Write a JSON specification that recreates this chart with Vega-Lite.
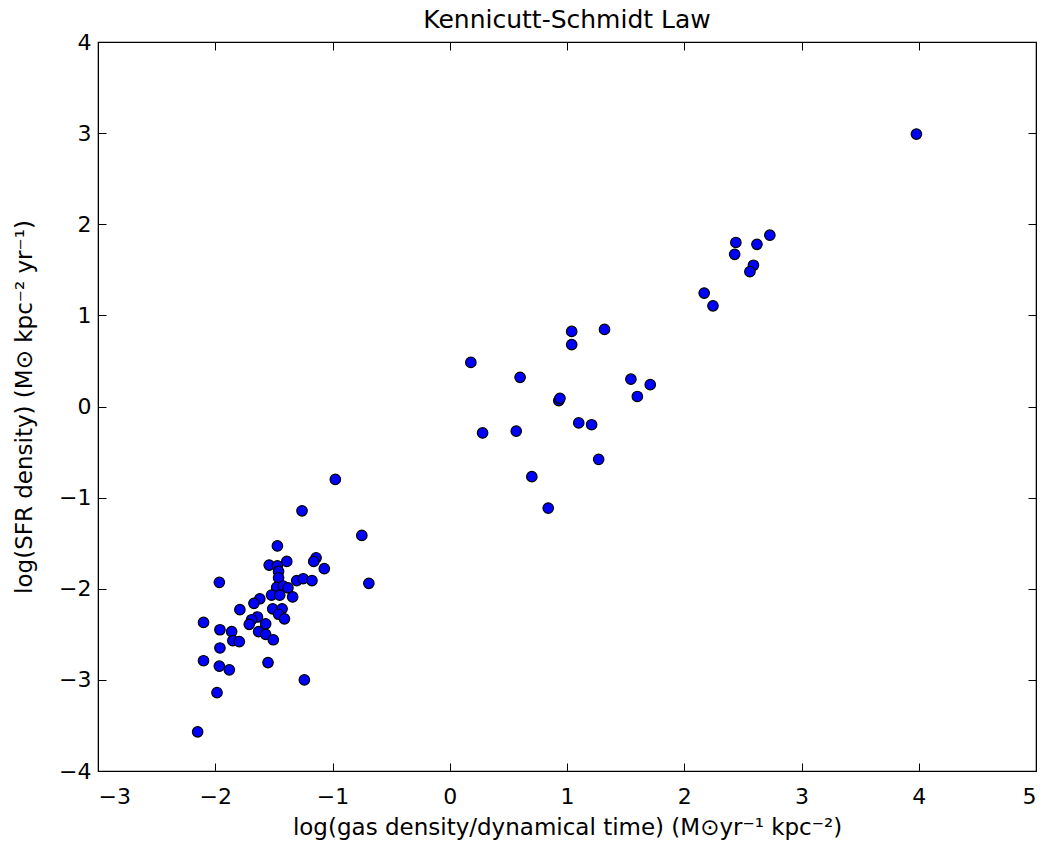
{
  "$schema": "https://vega.github.io/schema/vega-lite/v6.json",
  "autosize": "none",
  "padding": {"left": 98, "top": 42, "right": 10, "bottom": 82},
  "width": 938,
  "height": 729,
  "background": "white",
  "title": {"text": "Kennicutt-Schmidt Law", "font": "DejaVu Sans", "fontSize": 25, "fontWeight": "normal", "color": "black", "offset": -2},
  "config": {
    "view": {"stroke": "black", "strokeWidth": 1.2},
    "axis": {"domainColor": "black", "tickColor": "black", "labelColor": "black", "titleColor": "black", "labelFont": "DejaVu Sans", "titleFont": "DejaVu Sans", "labelFontSize": 22, "titleFontSize": 23, "titleFontWeight": "normal", "grid": false, "tickSize": -8}
  },
  "data": {"values": [
    {"x": -0.976, "y": -0.80}, {"x": -1.26, "y": -1.145}, {"x": -0.75, "y": -1.415}, {"x": -1.47, "y": -1.53},
    {"x": -0.69, "y": -1.94}, {"x": -1.965, "y": -1.93}, {"x": -1.54, "y": -1.74}, {"x": -1.47, "y": -1.75},
    {"x": -1.39, "y": -1.70}, {"x": -1.46, "y": -1.81}, {"x": -1.46, "y": -1.88}, {"x": -1.14, "y": -1.66},
    {"x": -1.16, "y": -1.70}, {"x": -1.07, "y": -1.78}, {"x": -1.305, "y": -1.91}, {"x": -1.25, "y": -1.89},
    {"x": -1.175, "y": -1.91}, {"x": -1.476, "y": -1.985}, {"x": -1.42, "y": -1.97}, {"x": -1.38, "y": -1.99},
    {"x": -1.34, "y": -2.09}, {"x": -1.52, "y": -2.07}, {"x": -1.45, "y": -2.07}, {"x": -1.62, "y": -2.11},
    {"x": -1.67, "y": -2.16}, {"x": -1.79, "y": -2.23}, {"x": -1.51, "y": -2.22}, {"x": -1.43, "y": -2.22},
    {"x": -1.46, "y": -2.28}, {"x": -1.41, "y": -2.33}, {"x": -1.64, "y": -2.31}, {"x": -1.69, "y": -2.34},
    {"x": -1.71, "y": -2.39}, {"x": -1.57, "y": -2.385}, {"x": -1.63, "y": -2.47}, {"x": -1.57, "y": -2.50},
    {"x": -1.505, "y": -2.56}, {"x": -2.10, "y": -2.37}, {"x": -1.96, "y": -2.45}, {"x": -1.86, "y": -2.47},
    {"x": -1.85, "y": -2.57}, {"x": -1.795, "y": -2.58}, {"x": -1.96, "y": -2.65}, {"x": -2.10, "y": -2.79},
    {"x": -1.965, "y": -2.85}, {"x": -1.88, "y": -2.89}, {"x": -1.55, "y": -2.81}, {"x": -1.24, "y": -3.0},
    {"x": -1.985, "y": -3.14}, {"x": -2.15, "y": -3.57},
    {"x": 1.04, "y": 0.824}, {"x": 1.32, "y": 0.846}, {"x": 1.04, "y": 0.68}, {"x": 0.18, "y": 0.484},
    {"x": 0.60, "y": 0.32}, {"x": 1.545, "y": 0.30}, {"x": 1.71, "y": 0.24}, {"x": 1.60, "y": 0.11},
    {"x": 0.93, "y": 0.065}, {"x": 0.94, "y": 0.09}, {"x": 1.10, "y": -0.18}, {"x": 1.21, "y": -0.20},
    {"x": 0.28, "y": -0.29}, {"x": 0.567, "y": -0.27}, {"x": 1.27, "y": -0.58}, {"x": 0.70, "y": -0.77},
    {"x": 0.84, "y": -1.115},
    {"x": 3.98, "y": 2.99}, {"x": 2.73, "y": 1.88}, {"x": 2.44, "y": 1.80}, {"x": 2.62, "y": 1.78},
    {"x": 2.43, "y": 1.67}, {"x": 2.59, "y": 1.55}, {"x": 2.56, "y": 1.48}, {"x": 2.17, "y": 1.245},
    {"x": 2.245, "y": 1.105}
  ]},
  "layer": [
    {
      "mark": {"type": "point", "filled": true, "fill": "#0000ff", "stroke": "black", "strokeWidth": 1.2, "size": 110, "opacity": 1, "shape": "circle"},
      "encoding": {
        "x": {"field": "x", "type": "quantitative", "scale": {"domain": [-3, 5], "nice": false, "zero": false},
              "axis": {"orient": "bottom", "values": [-3, -2, -1, 0, 1, 2, 3, 4, 5], "format": "d", "labelExpr": "replace(datum.label, '-', '\u2212')", "labelPadding": 23, "title": "log(gas density/dynamical time) (M\u2299yr\u207b\u00b9 kpc\u207b\u00b2)", "titlePadding": 9}},
        "y": {"field": "y", "type": "quantitative", "scale": {"domain": [-4, 4], "nice": false, "zero": false},
              "axis": {"orient": "left", "values": [-4, -3, -2, -1, 0, 1, 2, 3, 4], "format": "d", "labelExpr": "replace(datum.label, '-', '\u2212')", "labelPadding": 15, "title": "log(SFR density) (M\u2299 kpc\u207b\u00b2 yr\u207b\u00b9)", "titlePadding": 22}}
      }
    },
    {
      "mark": {"type": "point", "opacity": 0},
      "encoding": {
        "x": {"field": "x", "type": "quantitative", "scale": {"domain": [-3, 5], "nice": false, "zero": false},
              "axis": {"orient": "top", "values": [-3, -2, -1, 0, 1, 2, 3, 4, 5], "labels": false, "title": null}},
        "y": {"field": "y", "type": "quantitative", "scale": {"domain": [-4, 4], "nice": false, "zero": false},
              "axis": {"orient": "right", "values": [-4, -3, -2, -1, 0, 1, 2, 3, 4], "labels": false, "title": null}}
      }
    }
  ],
  "resolve": {"axis": {"x": "independent", "y": "independent"}}
}
